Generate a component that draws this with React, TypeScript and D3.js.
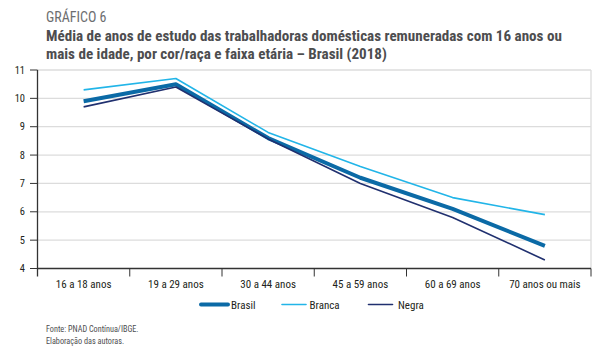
import React from "react";
import * as d3 from "d3";

const categories = ["16 a 18 anos", "19 a 29 anos", "30 a 44 anos", "45 a 59 anos", "60 a 69 anos", "70 anos ou mais"];
const brasil = [9.9, 10.5, 8.6, 7.2, 6.1, 4.8];
const branca = [10.3, 10.7, 8.8, 7.6, 6.5, 5.9];
const negra = [9.7, 10.4, 8.57, 7.0, 5.8, 4.3];
const yTicks = [4, 5, 6, 7, 8, 9, 10, 11];

const series = [
  { name: "Brasil", values: brasil, color: "#0b6aa6", width: 4 },
  { name: "Branca", values: branca, color: "#22b5e8", width: 1.6 },
  { name: "Negra", values: negra, color: "#20306f", width: 1.6 },
];

const W = 602, H = 357;
const left = 37.5, right = 591, top = 70, bottom = 268.5;
const font = "'Liberation Sans Narrow', 'Roboto Condensed', Roboto, sans-serif";

export default function App() {
  const x = d3.scaleBand<string>().domain(categories).range([left, right]);
  const y = d3.scaleLinear().domain([4, 11]).range([bottom, top]);
  const line = d3.line<number>().x((_, i) => x(categories[i])! + x.bandwidth() / 2).y((d) => y(d));
  const legendItems = [
    { s: series[0], x1: 201, x2: 228, tx: 231 },
    { s: series[1], x1: 282, x2: 306, tx: 309.5 },
    { s: series[2], x1: 368.5, x2: 392.5, tx: 398 },
  ];
  return (
    <svg width={W} height={H} style={{ position: "absolute", left: 0, top: 0, background: "#fff" }} fontFamily={font}>
      <text x={46} y={22} fontSize={14} fill="#6d6e70">GRÁFICO 6</text>
      <text x={46} y={41} fontSize={15.1} fontWeight="bold" fill="#4d4d4f">Média de anos de estudo das trabalhadoras domésticas remuneradas com 16 anos ou</text>
      <text x={46} y={59} fontSize={15.1} fontWeight="bold" fill="#4d4d4f">mais de idade, por cor/raça e faixa etária – Brasil (2018)</text>
      {yTicks.map((t) => (
        <g key={t}>
          {t > 4 && <line x1={left} x2={right} y1={y(t)} y2={y(t)} stroke="#dcdcdc" strokeWidth={1.3} />}
          <line x1={30} x2={left} y1={y(t)} y2={y(t)} stroke="#333" strokeWidth={1} />
          <text x={25} y={y(t) + 3.5} fontSize={10.5} textAnchor="end" fill="#231f20">{t}</text>
        </g>
      ))}
      <line x1={right} x2={right} y1={top} y2={bottom} stroke="#dcdcdc" strokeWidth={1.3} />
      <line x1={left} x2={left} y1={top} y2={bottom + 8} stroke="#333" strokeWidth={1.3} />
      <line x1={left} x2={right} y1={bottom} y2={bottom} stroke="#333" strokeWidth={1.3} />
      {categories.map((c, i) => (
        <g key={c}>
          <line x1={x(c)! + x.bandwidth()} x2={x(c)! + x.bandwidth()} y1={bottom} y2={bottom + 8} stroke="#333" strokeWidth={1} />
          <text x={x(c)! + x.bandwidth() / 2} y={288} fontSize={11} textAnchor="middle" fill="#231f20">{c}</text>
        </g>
      ))}
      {series.map((s) => (
        <path key={s.name} d={line(s.values)!} fill="none" stroke={s.color} strokeWidth={s.width} strokeLinejoin="round" />
      ))}
      {legendItems.map(({ s, x1, x2, tx }) => (
        <g key={s.name}>
          <line x1={x1} x2={x2} y1={304.5} y2={304.5} stroke={s.color} strokeWidth={s.width} strokeLinecap="round" />
          <text x={tx} y={308.5} fontSize={11} fill="#231f20">{s.name}</text>
        </g>
      ))}
      <text x={46} y={332} fontSize={8.2} fill="#4d4d4f">Fonte: PNAD Contínua/IBGE.</text>
      <text x={46} y={344} fontSize={8.2} fill="#4d4d4f">Elaboração das autoras.</text>
    </svg>
  );
}
